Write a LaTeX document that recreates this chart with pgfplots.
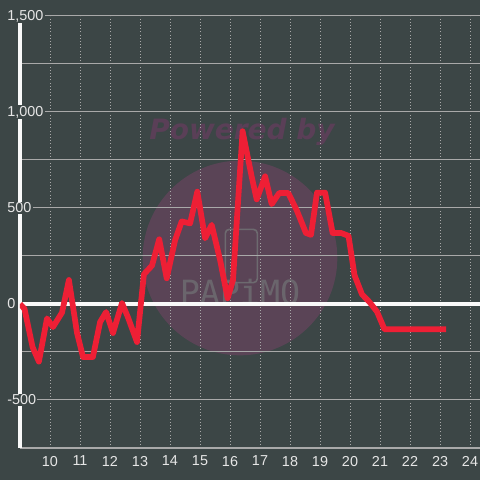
\documentclass[border=0pt]{standalone}
\usepackage{fontspec}
\setmainfont{Liberation Sans}
\newfontfamily\wmfont{DejaVu Sans}
\newfontfamily\wmmono{DejaVu Sans Mono}
\usepackage{pgfplots}
\pgfplotsset{compat=1.18}
\definecolor{bgcol}{HTML}{3C4646}
\definecolor{labcol}{HTML}{E6E6E6}
\definecolor{gridcol}{HTML}{A9A9A9}
\definecolor{linecol}{HTML}{EE1F35}
\definecolor{wmcol}{HTML}{5A4456}
\definecolor{wmtext}{HTML}{5A3F57}
\definecolor{logocol}{HTML}{727476}

\begin{document}
\begin{tikzpicture}
% page background, 480x480 px = 360x360 pt
\path[use as bounding box] (0,0) rectangle (360pt,360pt);
\fill[bgcol] (0,0) rectangle (360pt,360pt);
% watermark
\fill[wmcol] (180pt,166.5pt) circle[radius=73pt];
\node[text=wmtext, font={\wmfont\bfseries\itshape\fontsize{21}{24}\selectfont}] at (181.5pt,261pt) {Powered by};
\draw[logocol, line width=1.2pt, rounded corners=3pt, opacity=0.8] (169pt,148pt) rectangle (193pt,188pt);
\node[text=logocol, opacity=0.7, font={\wmmono\fontsize{25}{28}\selectfont}] at (180pt,141pt) {PAPiMO};

\begin{axis}[
  at={(15pt,24pt)}, anchor=south west,
  scale only axis,
  width=345pt, height=324pt,
  xmin=9, xmax=24.333,
  ymin=-750, ymax=1500,
  xtick={10,...,24},
  ytick={-500,0,500,1000,1500},
  minor ytick={-250,250,750,1250},
  xmajorgrids, ymajorgrids, yminorgrids,
  major x grid style={gridcol, dotted, line width=0.75pt},
  major y grid style={gridcol, solid, line width=0.75pt},
  minor y grid style={gridcol, solid, line width=0.75pt},
  major tick length=0pt, minor tick length=0pt,
  tick style={draw=none},
  axis x line*=bottom, axis y line*=left,
  x axis line style={gridcol, line width=0.9pt, -},
  y axis line style={white!95!gray, line width=2.3pt, -},
  /pgf/number format/assume math mode=true,
  /pgf/number format/1000 sep={,},
  ticklabel style={font=\fontsize{10.8}{12}\selectfont, text=labcol},
  xticklabel style={yshift=-2.5pt},
  yticklabel style={anchor=west, xshift=-10.75pt, fill=bgcol, inner sep=1pt},
]
% zero line
\draw[white!95!gray, line width=2.3pt] (axis cs:9,0) -- (axis cs:24.333,0);
\addplot[linecol, line width=4.3pt, line join=round, line cap=butt] coordinates {
  (9.0,0) (9.15,-25) (9.42,-225) (9.63,-300) (9.9,-75) (10.1,-120)
  (10.4,-45) (10.63,125) (10.9,-150) (11.1,-276) (11.43,-276) (11.67,-94)
  (11.87,-42) (12.1,-151) (12.4,5) (12.6,-70) (12.9,-198) (13.13,155)
  (13.4,200) (13.64,337) (13.89,134) (14.17,333) (14.39,430) (14.67,420)
  (14.91,585) (15.17,342) (15.39,412) (15.67,229) (15.92,30) (16.1,125)
  (16.42,900) (16.72,665) (16.89,545) (17.17,665) (17.39,520) (17.64,578)
  (17.94,578) (18.22,490) (18.53,370) (18.7,360) (18.9,580) (19.17,580)
  (19.42,370) (19.7,370) (19.95,355) (20.15,150) (20.4,50) (20.65,10)
  (20.9,-40) (21.15,-132) (23.2,-132)
};
\end{axis}
\end{tikzpicture}
\end{document}
